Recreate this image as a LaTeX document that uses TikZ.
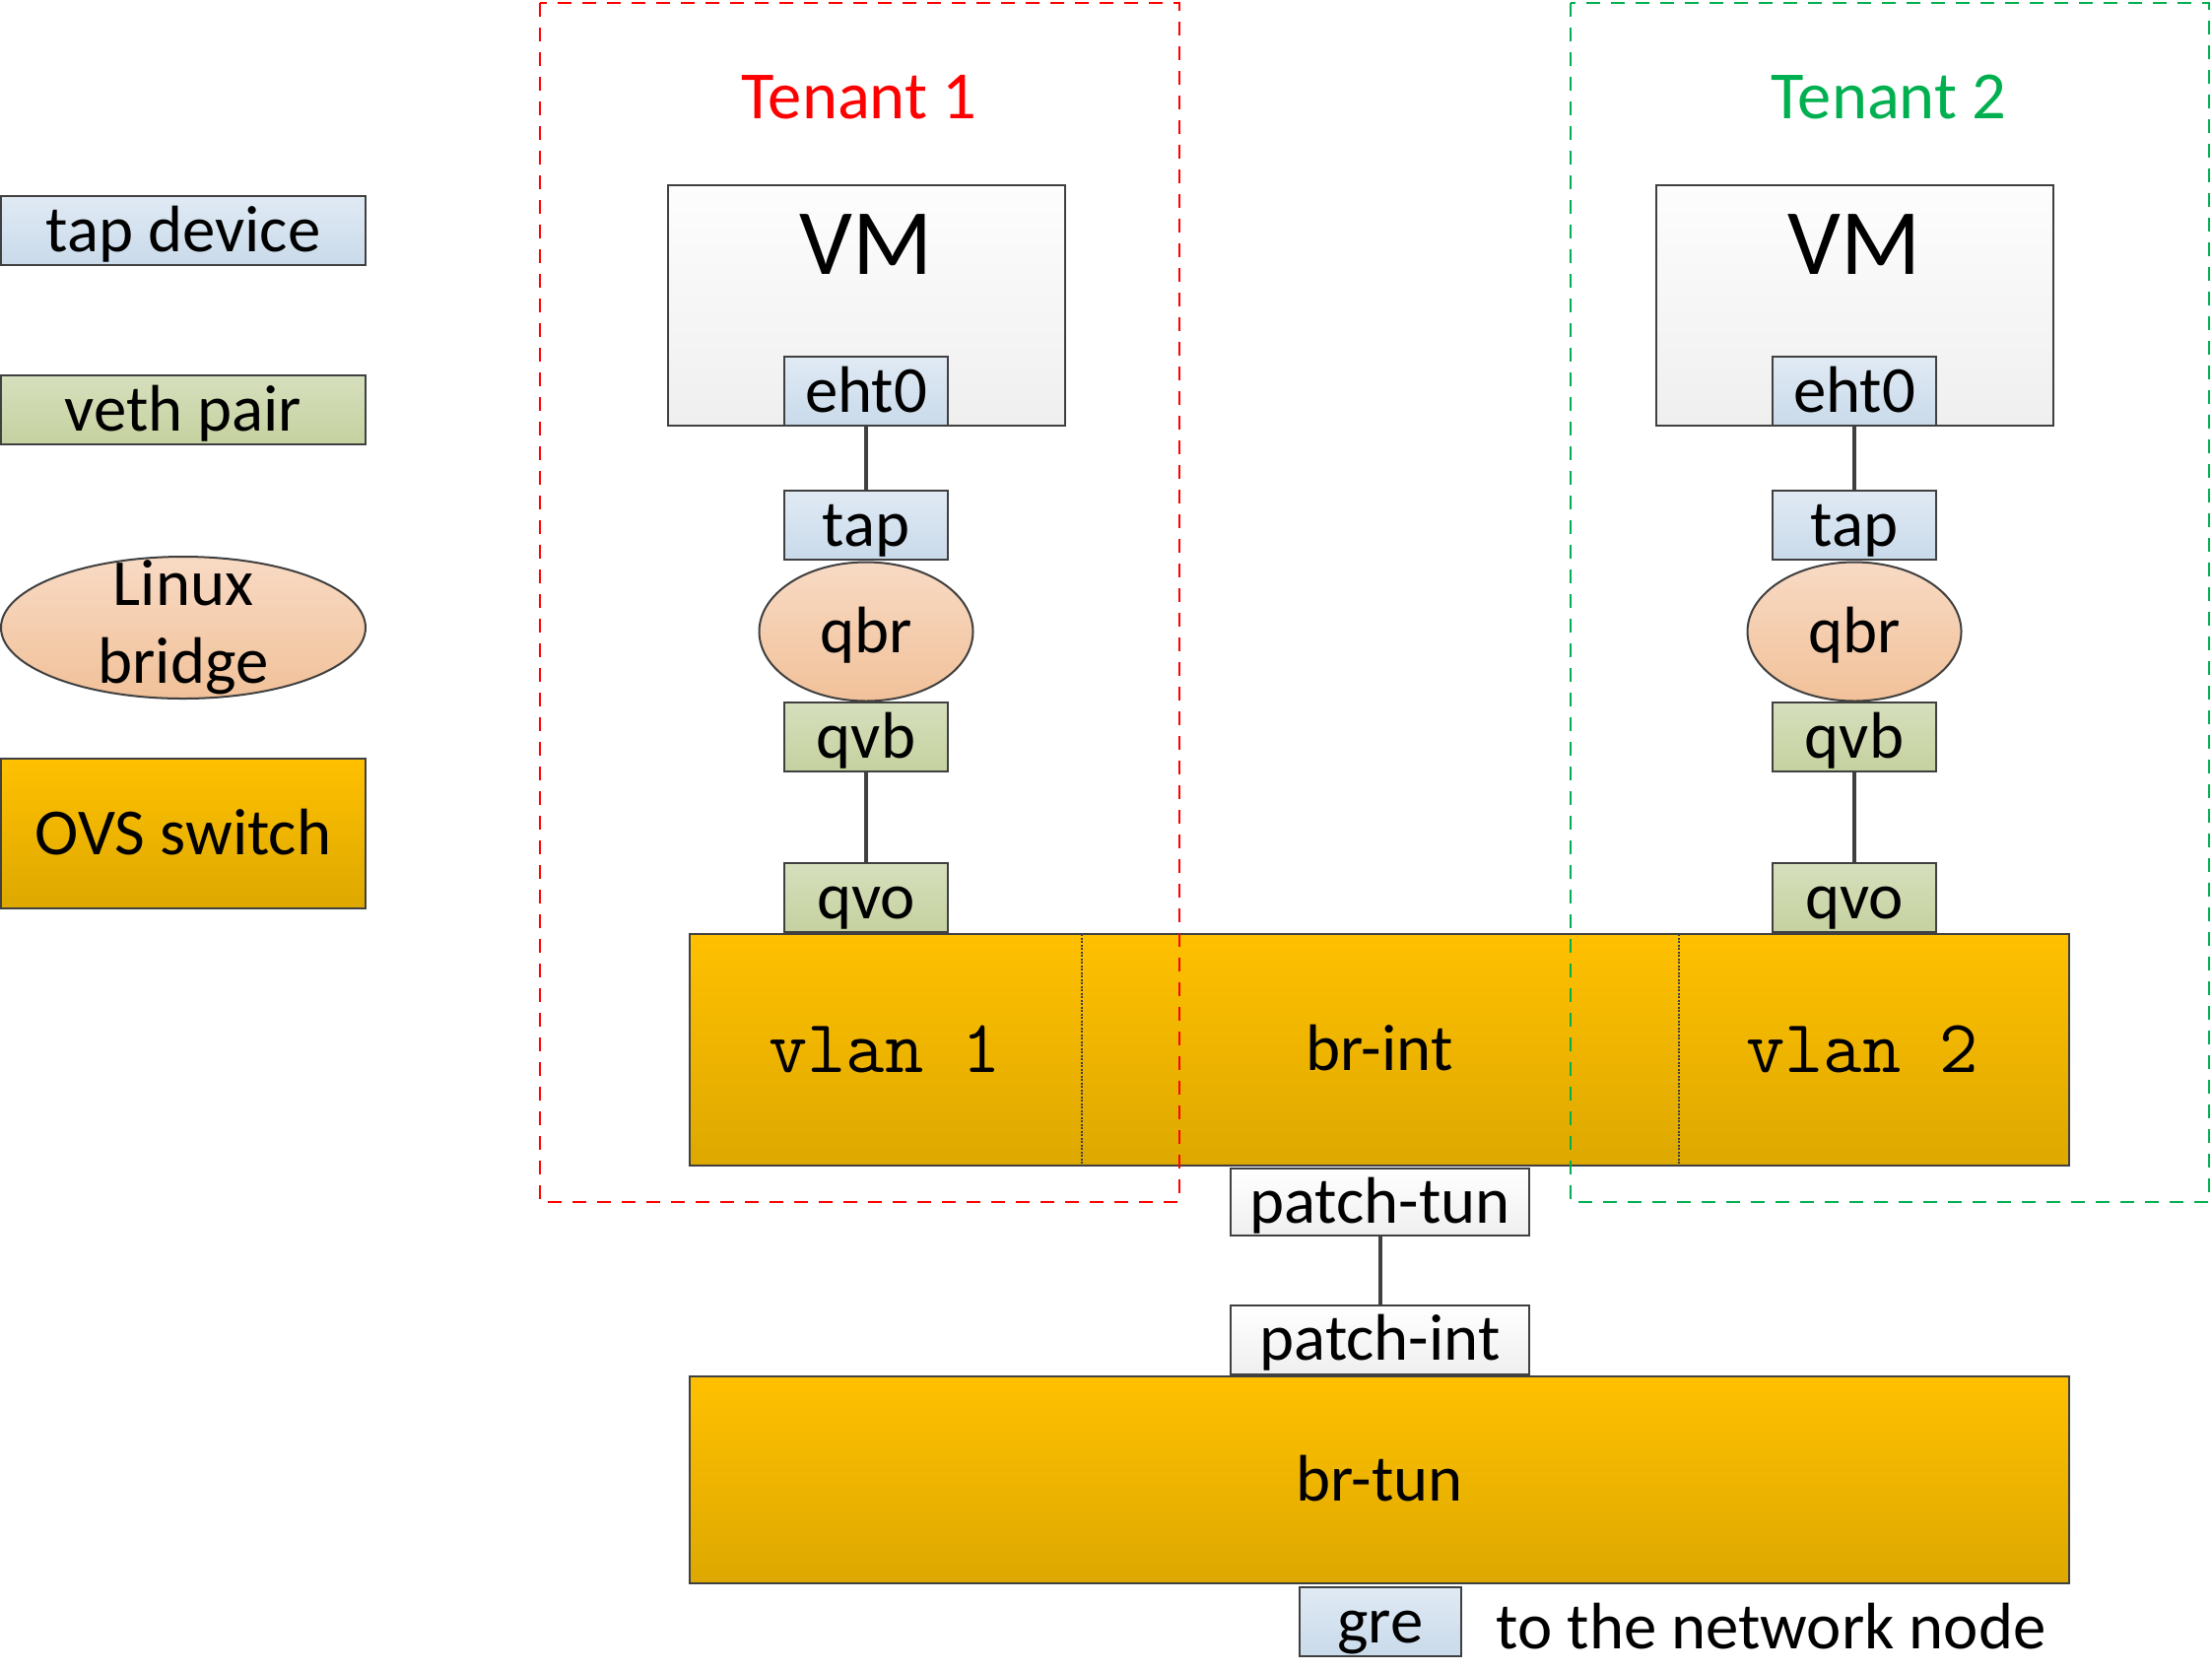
\documentclass[tikz,border=0pt]{standalone}
\usepackage{fontspec}
\setmainfont{Carlito}
\usepackage{tikz}
\usetikzlibrary{positioning,shapes.geometric,shadings}
\usepackage{xcolor}
\definecolor{edge}{HTML}{404040}
\definecolor{tapTop}{HTML}{E0EAF4}
\definecolor{tapBot}{HTML}{C9DAEA}
\definecolor{vethTop}{HTML}{D6DFBD}
\definecolor{vethBot}{HTML}{C5D19F}
\definecolor{brTop}{HTML}{F8DAC4}
\definecolor{brBot}{HTML}{F1C199}
\definecolor{ovsTop}{HTML}{FFC000}
\definecolor{ovsBot}{HTML}{DDA800}
\definecolor{vmTop}{HTML}{FDFDFD}
\definecolor{vmBot}{HTML}{EFEFEF}
\definecolor{tenantred}{HTML}{FF0000}
\definecolor{tenantgreen}{HTML}{00B050}

\begin{document}
\begin{tikzpicture}[x=0.1mm, y=-0.1mm,
    every node/.style={font=\fontsize{19}{23}\selectfont, text=black},
    port/.style={draw=edge, line width=0.2mm, inner sep=0pt, minimum height=7mm,
        text height=15pt, text depth=3pt},
    tapport/.style={port, top color=tapTop, bottom color=tapBot, minimum width=16.6mm},
    vethport/.style={port, top color=vethTop, bottom color=vethBot, minimum width=16.6mm},
    patchport/.style={port, top color=white, bottom color=vmBot, minimum width=30.3mm},
    bridge/.style={ellipse, draw=edge, line width=0.2mm, inner sep=0pt,
        top color=brTop, bottom color=brBot},
    ovs/.style={draw=edge, line width=0.2mm, inner sep=0pt, top color=ovsTop, bottom color=ovsBot,
        text height=15pt, text depth=3pt},
    vmbox/.style={draw=edge, line width=0.2mm, top color=vmTop, bottom color=vmBot,
        minimum width=40.3mm, minimum height=24.4mm},
    wire/.style={draw=edge, line width=0.4mm},
    divider/.style={draw=edge, line width=0.2mm, dash pattern=on 0.2mm off 0.15mm},
    vlantext/.style={font=\ttfamily\fontsize{21.7}{26}\selectfont},
    tenant/.style={line width=0.2mm, dash pattern=on 1.4mm off 1.1mm}]
    \useasboundingbox (0,0) rectangle (2245,1695);

    % Legend
    \node[tapport, minimum width=37mm] (legtap) at (186,234) {tap device};
    \node[vethport, minimum width=37mm] (legveth) at (186,416) {veth pair};
    \node[bridge, minimum width=37mm, minimum height=14.4mm, inner ysep=-8pt, align=center,
        font=\fontsize{19}{22.5}\selectfont] (legbridge) at (186,637) {Linux\\bridge};
    \node[ovs, minimum width=37mm, minimum height=15.2mm] (legovs) at (186,846) {OVS switch};

    % Tenant 1
    \node[vmbox] (vm1) at (879,310) {};
    \node[font=\fontsize{27}{32}\selectfont] (vm1text) at (879,248) {VM};
    \node[tapport] (eth1) at (879,397) {eht0};
    \node[tapport] (tap1) at (879,533) {tap};
    \node[bridge, minimum width=21.7mm, minimum height=14.1mm, text height=15pt, text depth=3pt]
        (qbr1) at (879,641) {qbr};
    \node[vethport] (qvb1) at (879,748) {qvb};
    \node[vethport] (qvo1) at (879,911) {qvo};
    \draw[wire] (eth1) -- (tap1);
    \draw[wire] (qvb1) -- (qvo1);

    % Tenant 2
    \node[vmbox] (vm2) at (1882,310) {};
    \node[font=\fontsize{27}{32}\selectfont] (vm2text) at (1882,248) {VM};
    \node[tapport] (eth2) at (1882,397) {eht0};
    \node[tapport] (tap2) at (1882,533) {tap};
    \node[bridge, minimum width=21.7mm, minimum height=14.1mm, text height=15pt, text depth=3pt]
        (qbr2) at (1882,641) {qbr};
    \node[vethport] (qvb2) at (1882,748) {qvb};
    \node[vethport] (qvo2) at (1882,911) {qvo};
    \draw[wire] (eth2) -- (tap2);
    \draw[wire] (qvb2) -- (qvo2);

    % Integration bridge
    \node[ovs, minimum width=140mm, minimum height=23.5mm] (brint) at (1400,1065.5) {br-int};
    \draw[divider] (1098,948) -- (1098,1183);
    \draw[divider] (1704,948) -- (1704,1183);
    \node[vlantext] (vlan1) at (898,1065) {vlan 1};
    \node[vlantext] (vlan2) at (1890,1065) {vlan 2};

    % Tenant boundaries
    \draw[tenant, draw=tenantred] (548,3) rectangle (1197,1220);
    \node[text=tenantred, font=\fontsize{19.5}{23}\selectfont] (ten1) at (872,99) {Tenant 1};
    \draw[tenant, draw=tenantgreen] (1594,3) rectangle (2242,1220);
    \node[text=tenantgreen, font=\fontsize{19.5}{23}\selectfont] (ten2) at (1917,99) {Tenant 2};

    % Tunnel bridge
    \node[patchport, minimum height=6.8mm] (ptun) at (1400.5,1220) {patch-tun};
    \node[patchport] (pint) at (1400.5,1359.5) {patch-int};
    \draw[wire] (ptun) -- (pint);
    \node[ovs, minimum width=140mm, minimum height=21mm] (brtun) at (1400,1502) {br-tun};
    \node[tapport, minimum width=16.4mm] (gre) at (1401,1646) {gre};
    \node[anchor=west, inner sep=0pt, text height=15pt, text depth=3pt] (gretext)
        at (1518,1652) {to the network node};
\end{tikzpicture}
\end{document}
